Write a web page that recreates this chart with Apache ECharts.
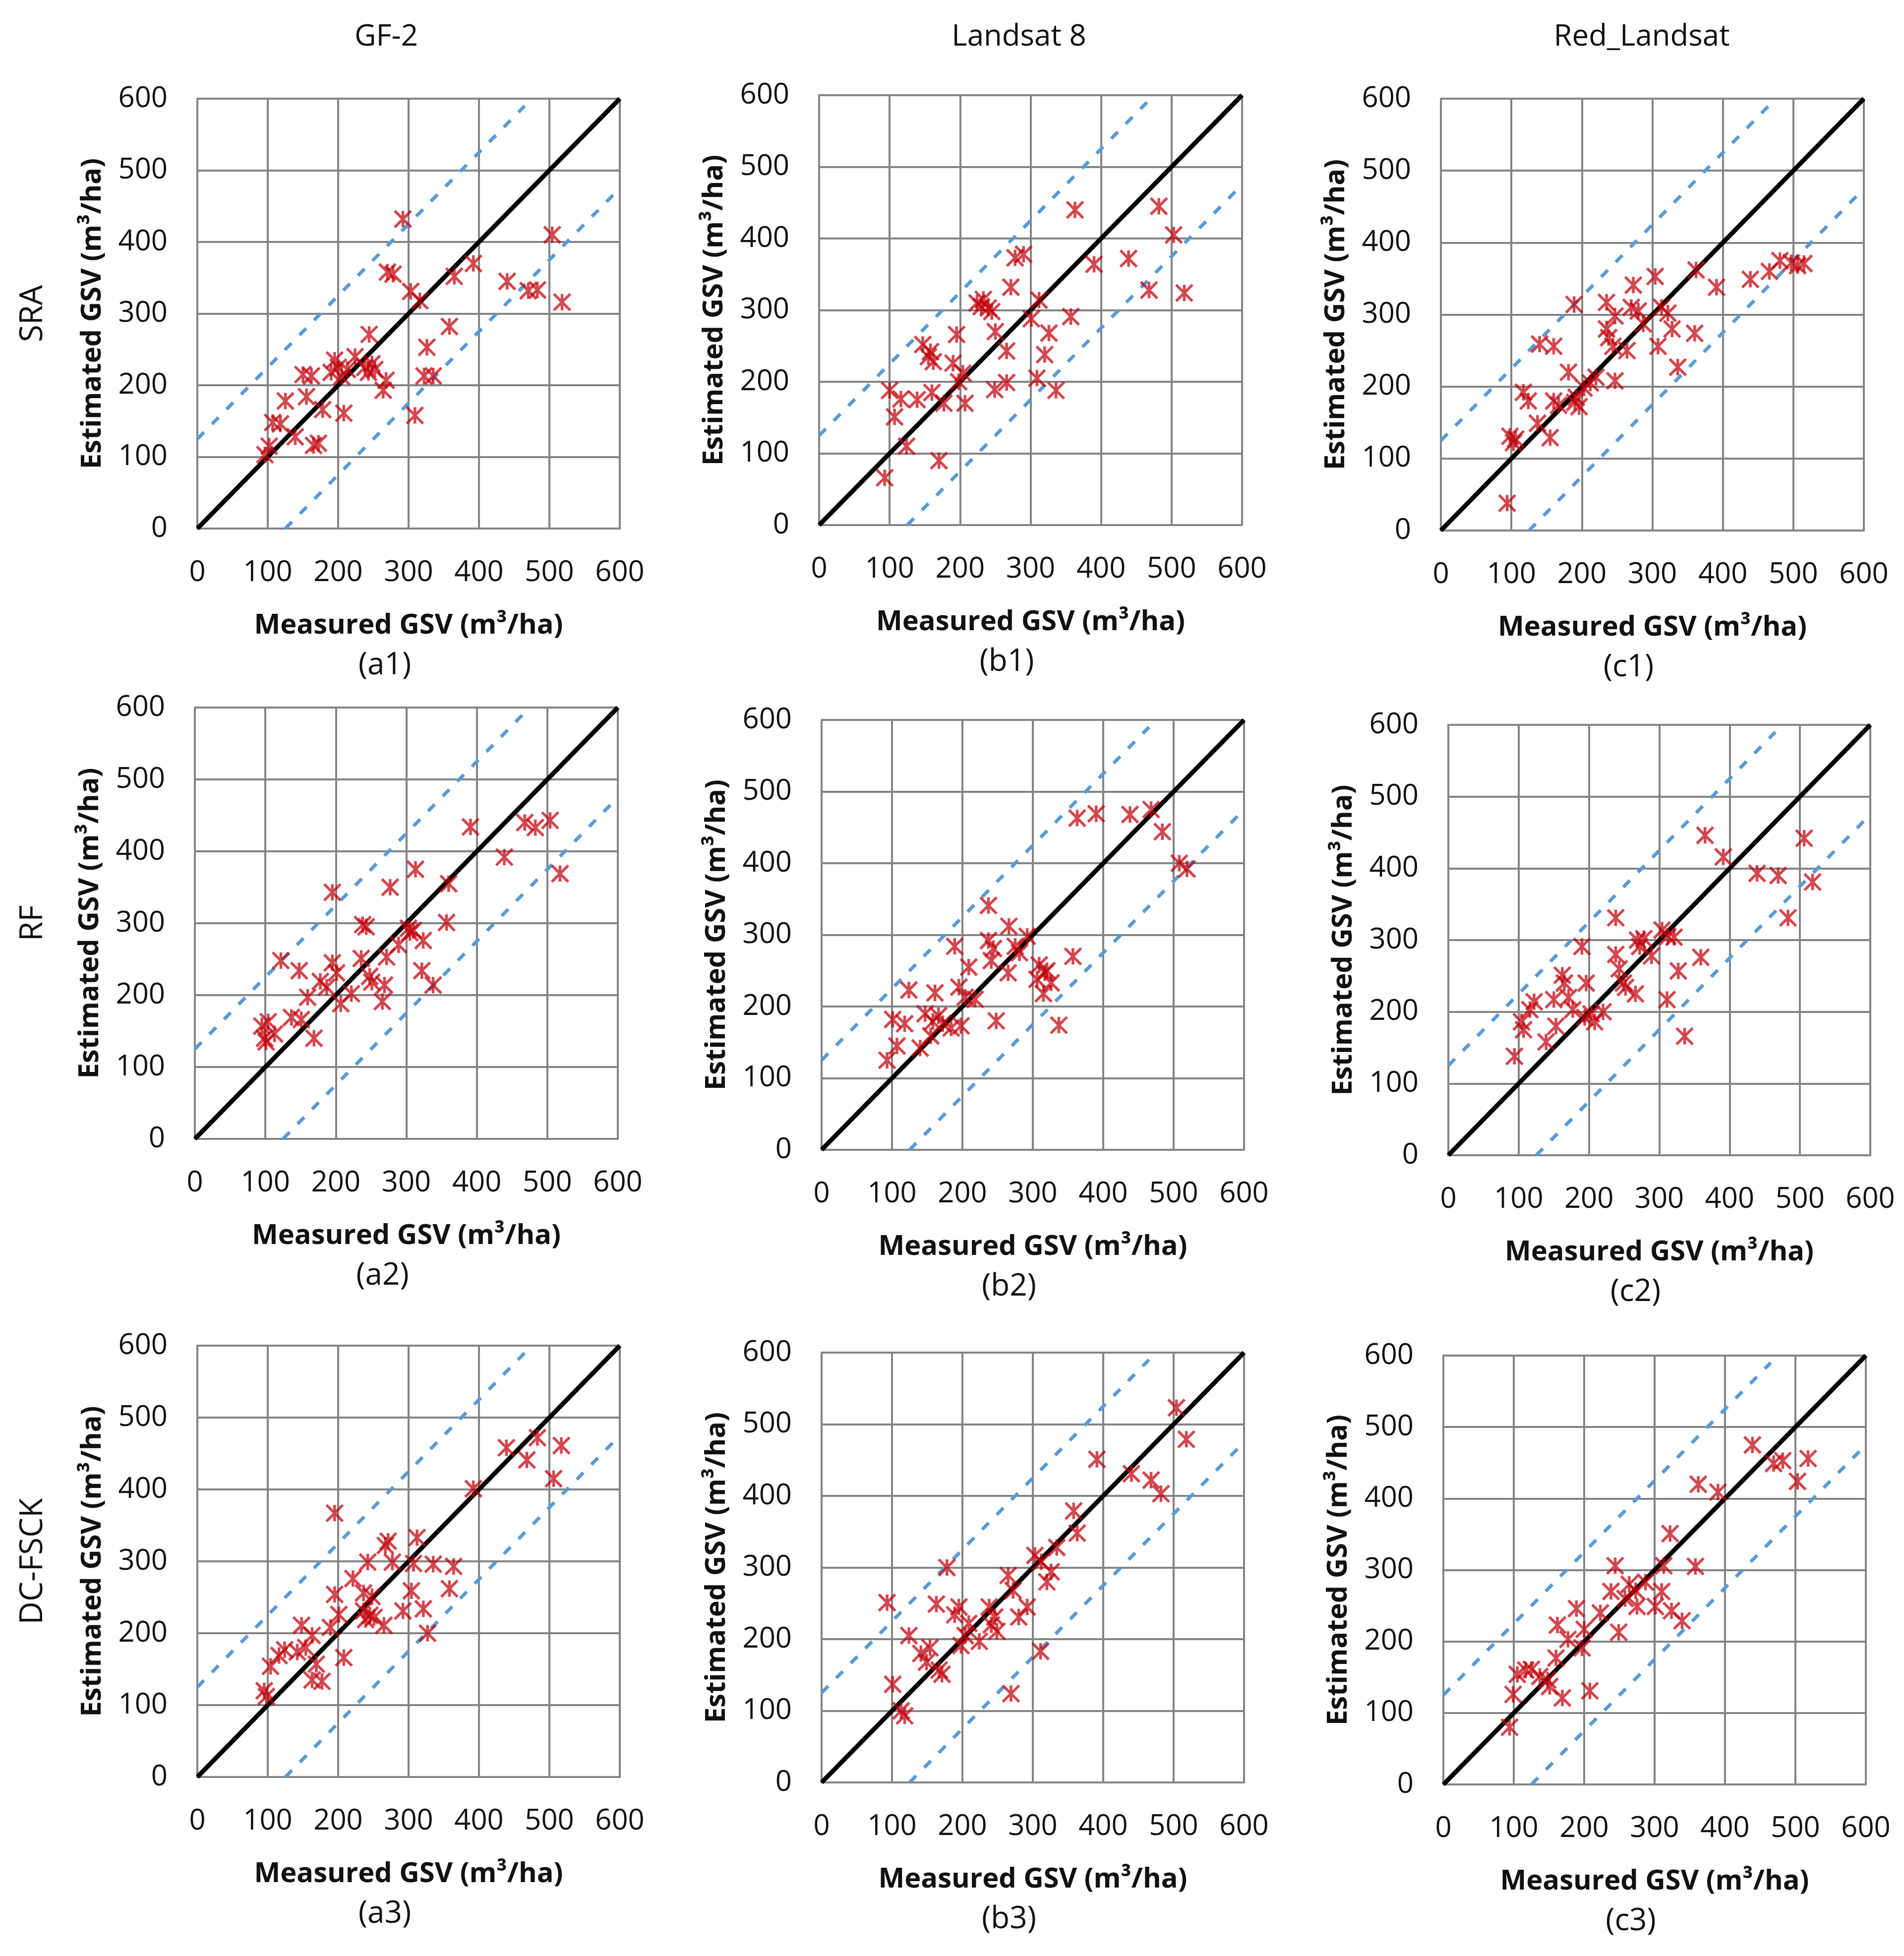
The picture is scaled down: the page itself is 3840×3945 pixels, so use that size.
<!DOCTYPE html>
<html>
<head>
<meta charset="utf-8">
<script src="https://cdn.jsdelivr.net/npm/echarts@6/dist/echarts.min.js"></script>
<style>
html, body { margin: 0; padding: 0; background: #ffffff; }
#chart { width: 3840px; height: 3945px; }
</style>
</head>
<body>
<div id="chart"></div>
<script>
// column / row headings
var columnTitles = ['GF-2', 'Landsat 8', 'Red_Landsat'];
var rowTitles = ['SRA', 'RF', 'DC-FSCK'];
var panelNames = ['a1', 'b1', 'c1', 'a2', 'b2', 'c2', 'a3', 'b3', 'c3'];

// 1:1 line and the +/-125 band (dashed)
var oneToOneX = [0, 600];
var oneToOneY = [0, 600];
var upperBandX = [0, 465];
var upperBandY = [125, 590];
var lowerBandX = [125, 600];
var lowerBandY = [0, 475];

// measured (x) / estimated (y) GSV
var a1Measured = [292,504,270,278,392,365,303,316,440,470,483,518,358,326,244,322,335,309,224,238,248,252,243,268,264,195,200,190,205,213,150,162,155,125,178,208,107,118,139,165,172,96,102];
var a1Estimated = [432,410,358,355,370,352,331,318,345,332,333,316,282,253,271,213,213,158,240,225,230,222,218,207,193,235,225,218,212,222,215,213,184,178,166,161,148,146,128,116,119,103,115];

var b1Measured = [363,482,503,278,290,390,439,272,468,518,312,224,233,240,245,230,301,357,250,326,195,266,320,147,155,162,158,190,204,198,266,249,309,336,100,116,139,160,177,207,107,124,170,93];
var b1Estimated = [440,445,405,373,378,364,372,332,328,324,314,310,315,303,298,305,288,291,270,268,266,243,238,252,235,228,242,226,212,200,199,189,205,188,188,176,175,185,170,170,151,110,90,66];

var c1Measured = [94,98,106,103,155,137,117,124,160,167,181,190,196,192,203,212,220,247,140,160,189,235,247,235,238,244,264,270,280,273,287,304,313,322,308,328,336,360,362,391,439,466,481,506,515,497];
var c1Estimated = [38,131,127,122,129,149,192,180,180,174,220,178,172,185,198,205,213,208,259,256,314,317,298,280,268,256,250,310,305,341,287,353,310,302,256,280,227,274,362,338,349,360,375,368,371,372];

var a2Measured = [391,468,483,504,439,518,313,277,195,360,238,243,303,310,305,357,324,289,272,236,122,148,195,201,322,338,178,187,248,251,269,266,160,222,207,137,151,95,104,99,113,169,101];
var a2Estimated = [434,440,433,443,392,369,375,350,343,355,298,295,293,290,287,301,276,270,253,251,248,234,245,231,234,214,219,211,226,218,214,191,197,202,188,169,166,157,163,140,146,140,135];

var b2Measured = [363,390,438,468,484,508,519,237,266,292,237,244,275,281,189,241,209,265,309,317,306,326,315,320,357,195,204,218,124,161,248,337,101,118,147,158,166,172,184,198,155,107,140,93];
var b2Estimated = [463,469,468,475,444,400,392,341,312,298,292,281,284,275,284,264,255,247,258,247,238,233,218,250,270,227,213,210,223,219,180,174,182,176,190,179,187,176,170,173,159,145,142,125];

var c2Measured = [365,506,391,439,469,518,483,238,190,269,278,272,304,321,312,238,289,359,327,243,249,252,266,311,336,162,165,196,122,150,171,177,194,203,208,220,116,104,107,153,139,94];
var c2Estimated = [446,442,416,393,390,381,331,331,291,300,302,291,314,304,305,280,278,276,257,260,240,234,225,217,166,251,240,240,214,217,220,203,192,197,186,200,203,186,175,180,158,138];

var a3Measured = [195,439,483,517,468,506,392,271,267,312,242,277,307,335,364,221,304,358,195,236,248,292,321,201,236,245,239,251,265,327,148,163,189,124,116,104,142,154,169,208,163,177,95,98];
var a3Estimated = [367,458,472,461,441,415,401,328,322,333,299,299,297,296,293,276,259,262,254,256,251,231,234,226,231,225,219,222,211,200,211,197,208,177,169,154,174,180,157,166,135,133,120,112];

var b3Measured = [504,518,391,440,468,482,358,363,334,303,312,326,320,178,265,272,93,163,195,189,292,280,238,246,241,249,209,224,204,198,124,154,141,149,167,171,311,269,101,113,118];
var b3Estimated = [523,479,451,431,422,403,379,348,328,317,308,294,280,300,289,268,251,249,245,234,245,231,245,231,220,211,222,197,205,191,205,188,180,168,157,151,183,124,137,100,93];

var c3Measured = [439,469,482,518,503,362,390,322,244,313,358,238,264,273,258,287,310,275,301,324,339,223,189,249,162,200,177,197,160,105,117,125,137,148,151,99,169,208,94];
var c3Estimated = [475,449,453,456,424,420,409,351,306,306,305,270,280,271,260,283,270,249,249,243,229,240,246,213,223,217,203,191,177,154,160,161,151,146,137,126,121,131,80];

var measuredSets = [a1Measured, b1Measured, c1Measured, a2Measured, b2Measured, c2Measured, a3Measured, b3Measured, c3Measured];
var estimatedSets = [a1Estimated, b1Estimated, c1Estimated, a2Estimated, b2Estimated, c2Estimated, a3Estimated, b3Estimated, c3Estimated];

// plot boxes in pixels: left, top, width, height
var panelBoxes = [
    [398, 199, 852, 867], [1652, 192, 853, 867], [2906, 199, 853, 871],
    [393, 1427, 853, 870], [1657, 1452, 852, 867], [2921, 1462, 851, 868],
    [398, 2714, 852, 870], [1657, 2728, 852, 867], [2911, 2734, 852, 865]
];
var columnTitleX = [779, 2055, 3311];

var FONT = '"Open Sans", "DejaVu Sans", sans-serif';
var GRID_GRAY = '#848484';
var TEXT_COLOR = '#111111';
var STAR = 'path://M0,0L10,10M10,0L0,10M5,0L5,10';

function pairs(xs, ys) {
    return xs.map(function (x, i) { return [x, ys[i]]; });
}

function textItem(text, x, y, size, weight, rotation) {
    return {
        type: 'text',
        x: x,
        y: y,
        rotation: rotation || 0,
        silent: true,
        style: {
            text: text,
            fontSize: size,
            fontWeight: weight,
            fontFamily: FONT,
            fill: TEXT_COLOR,
            align: 'center',
            verticalAlign: 'middle',
            textAlign: 'center',
            textVerticalAlign: 'middle'
        }
    };
}

function buildOption() {
    var grids = [], xAxes = [], yAxes = [], series = [], graphics = [];

    panelBoxes.forEach(function (box, i) {
        grids.push({ left: box[0], top: box[1], width: box[2], height: box[3] });

        var axisCommon = {
            gridIndex: i,
            type: 'value',
            min: 0,
            max: 600,
            interval: 100,
            nameLocation: 'middle',
            nameTextStyle: { fontFamily: FONT, fontSize: 56, fontWeight: 'bold', color: TEXT_COLOR },
            axisLine: { show: true, lineStyle: { color: GRID_GRAY, width: 4 } },
            axisTick: { show: false },
            axisLabel: { fontFamily: FONT, fontSize: 58, color: TEXT_COLOR, margin: 60 },
            splitLine: { show: true, lineStyle: { color: GRID_GRAY, width: 4 } }
        };
        xAxes.push(Object.assign({}, axisCommon, { name: 'Measured GSV (m³/ha)', nameGap: 168 }));
        yAxes.push(Object.assign({}, axisCommon, { name: 'Estimated GSV (m³/ha)', nameGap: 183 }));

        series.push({
            type: 'line', xAxisIndex: i, yAxisIndex: i, silent: true, symbol: 'none', z: 3,
            data: pairs(upperBandX, upperBandY),
            lineStyle: { color: '#5B9BD5', width: 7, type: [19, 23] }
        });
        series.push({
            type: 'line', xAxisIndex: i, yAxisIndex: i, silent: true, symbol: 'none', z: 3,
            data: pairs(lowerBandX, lowerBandY),
            lineStyle: { color: '#5B9BD5', width: 7, type: [19, 23] }
        });
        series.push({
            type: 'line', xAxisIndex: i, yAxisIndex: i, silent: true, symbol: 'none', z: 4,
            data: pairs(oneToOneX, oneToOneY),
            lineStyle: { color: '#000000', width: 9 }
        });
        series.push({
            type: 'scatter', xAxisIndex: i, yAxisIndex: i, z: 5,
            symbol: STAR,
            symbolSize: 33,
            data: pairs(measuredSets[i], estimatedSets[i]),
            itemStyle: { color: 'rgba(0,0,0,0)', borderColor: 'rgba(192,0,10,0.9)', borderWidth: 5.5 }
        });

        // panel caption (a1) ...
        graphics.push(textItem('(' + panelNames[i] + ')', box[0] + box[2] / 2 - 48, box[1] + box[3] + 276, 62, 'normal'));
    });

    columnTitles.forEach(function (t, c) {
        graphics.push(textItem(t, columnTitleX[c], 75, 60, 'normal'));
    });
    rowTitles.forEach(function (t, r) {
        var box = panelBoxes[r * 3];
        graphics.push(textItem(t, 67, box[1] + box[3] / 2, 64, 'normal', Math.PI / 2));
    });

    return {
        animation: false,
        backgroundColor: '#ffffff',
        textStyle: { fontFamily: FONT },
        grid: grids,
        xAxis: xAxes,
        yAxis: yAxes,
        series: series,
        graphic: { elements: graphics }
    };
}

var chartElement = document.getElementById('chart');
var chart = echarts.init(chartElement);
chart.setOption(buildOption());
</script>
</body>
</html>
